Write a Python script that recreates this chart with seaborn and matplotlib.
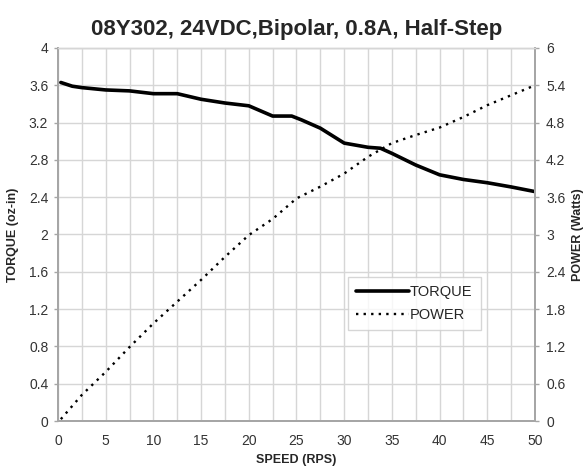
import numpy as np
import pandas as pd
import seaborn as sns
import matplotlib.pyplot as plt
from matplotlib.ticker import MultipleLocator

# Torque curve
speed_t = [0.3, 1.5, 2.5, 5, 7.5, 10, 12.5, 15, 17.5, 20, 22.5, 24.5, 25.5,
           27.5, 30, 32.5, 33.8, 35, 37.5, 40, 42.5, 45, 47.5, 50]
torque = [3.63, 3.59, 3.575, 3.55, 3.54, 3.51, 3.51, 3.45, 3.41, 3.38, 3.27, 3.27, 3.23,
          3.14, 2.98, 2.935, 2.925, 2.87, 2.745, 2.64, 2.59, 2.555, 2.51, 2.46]

# Power curve
speed_p = [0.3, 2.5, 5, 7.5, 10, 12.5, 15, 17.5, 20, 22.5, 25, 27.5, 30,
           32.5, 35, 37.5, 40, 42.5, 45, 47.5, 50]
power = [0.03, 0.42, 0.79, 1.19, 1.57, 1.92, 2.27, 2.64, 2.99, 3.25, 3.58, 3.77, 3.98,
         4.25, 4.47, 4.6, 4.72, 4.89, 5.08, 5.24, 5.40]

df_t = pd.DataFrame({"speed": speed_t, "torque": torque})
df_p = pd.DataFrame({"speed": speed_p, "power": power})

sns.set_style("white")
plt.rcParams['font.family'] = ['Liberation Sans', 'DejaVu Sans']

fig = plt.figure(figsize=(5.87, 4.69), dpi=100)
ax = fig.add_axes([0.0988, 0.1023, 0.8126, 0.7954])
ax2 = ax.twinx()

sns.lineplot(data=df_t, x="speed", y="torque", ax=ax, color="black", linewidth=2.6,
             label="TORQUE", legend=False)
sns.lineplot(data=df_p, x="speed", y="power", ax=ax2, color="black", linewidth=1.7,
             linestyle=(0, (1, 2.2)), label="POWER", legend=False)

ax.set_xlim(0, 50)
ax.set_ylim(0, 4)
ax2.set_ylim(0, 6)
ax.xaxis.set_major_locator(MultipleLocator(5))
ax.xaxis.set_minor_locator(MultipleLocator(2.5))
ax.yaxis.set_major_locator(MultipleLocator(0.4))
ax2.yaxis.set_major_locator(MultipleLocator(0.6))

ax.set_xticklabels([f"{v:g}" for v in ax.get_xticks()])
ax.set_yticklabels([f"{v:.1f}".rstrip("0").rstrip(".") if v != 0 else "0" for v in ax.get_yticks()])
ax2.set_yticklabels([f"{v:.1f}".rstrip("0").rstrip(".") if v != 0 else "0" for v in ax2.get_yticks()])

ax.grid(True, which="both", axis="x", color="#d6d6d6", linewidth=1)
ax.grid(True, which="major", axis="y", color="#d6d6d6", linewidth=1)
ax.set_axisbelow(True)

for a in (ax, ax2):
    for s in ("left", "bottom", "right"):
        a.spines[s].set_color("#a6a6a6")
        a.spines[s].set_linewidth(1.3)
    a.spines["top"].set_color("#d6d6d6")
    a.spines["top"].set_linewidth(1)
    a.tick_params(axis="both", which="major", labelsize=10, labelcolor="#333333",
                  color="#a6a6a6", length=3, width=1, direction="out")
    a.tick_params(axis="x", which="minor", length=0)

ax.tick_params(axis="x", pad=6)
ax.tick_params(axis="y", left=True, pad=4)
ax2.tick_params(axis="y", right=True, pad=5)

ax.set_xlabel("SPEED (RPS)", fontsize=9, fontweight="bold", labelpad=5)
ax.set_ylabel("TORQUE (oz-in)", fontsize=9, fontweight="bold", labelpad=7)
ax2.set_ylabel("POWER (Watts)", fontsize=9, fontweight="bold", labelpad=5)

ax.set_title("08Y302, 24VDC,Bipolar, 0.8A, Half-Step", fontsize=16, fontweight="bold", pad=9)

h1, l1 = ax.get_legend_handles_labels()
h2, l2 = ax2.get_legend_handles_labels()
leg = ax2.legend(h1 + h2, l1 + l2, loc="upper left", bbox_to_anchor=(0.608, 0.386),
                 borderaxespad=0, frameon=True, fancybox=False, fontsize=10.5,
                 handlelength=3.6, handletextpad=0.1, borderpad=0.55, labelspacing=0.6)
leg.get_frame().set_edgecolor("#cccccc")
leg.get_frame().set_linewidth(1)

plt.savefig("out.png", dpi=100)
